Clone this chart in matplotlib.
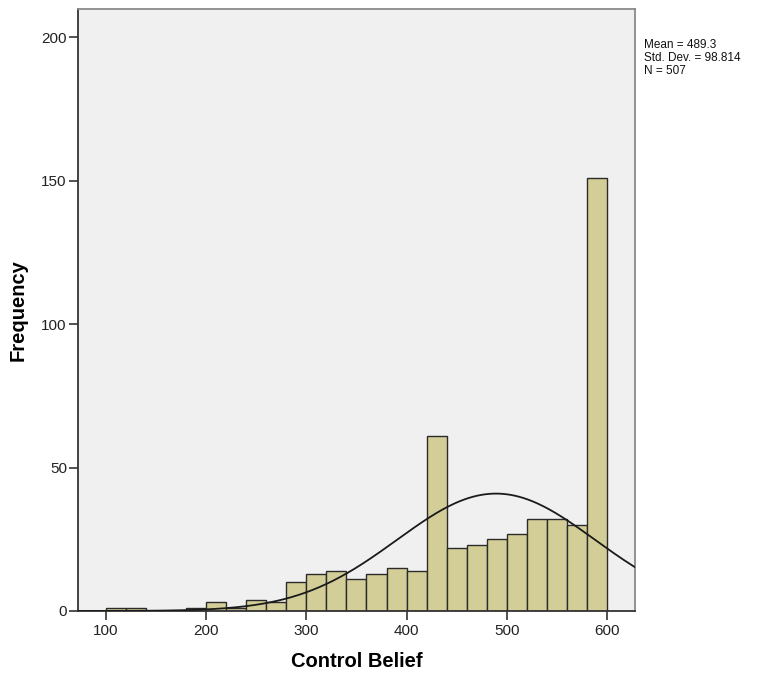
import numpy as np
import matplotlib.pyplot as plt

# Histogram of Control Belief scores, 20-point bins from 100 to 600
bin_edges = list(range(100, 601, 20))
counts = [1, 1, 0, 0, 1, 3, 1, 4, 3, 10, 13, 14, 11, 13, 15, 14,
          61, 22, 23, 25, 27, 32, 32, 30, 151]

mean = 489.3
std_dev = 98.814
n_total = 507

plt.rcParams["font.family"] = ["Liberation Sans", "DejaVu Sans"]

fig = plt.figure(figsize=(7.72, 6.77), dpi=100)
ax = fig.add_axes([0.101, 0.0975, 0.7215, 0.8895])
ax.set_facecolor("#F0F0F0")

lefts = np.array(bin_edges[:-1])
ax.bar(lefts, counts, width=20, align="edge", color="#D3CE97",
       edgecolor="#2b2b2b", linewidth=1.0, zorder=2)

# Fitted normal curve scaled to counts per bin
xs = np.linspace(72, 628, 400)
bin_w = 20
pdf = np.exp(-0.5 * ((xs - mean) / std_dev) ** 2) / (std_dev * np.sqrt(2 * np.pi))
ax.plot(xs, n_total * bin_w * pdf, color="#1a1a1a", linewidth=1.3, zorder=3)

ax.set_xlim(72, 628)
ax.set_ylim(0, 210)
ax.set_xticks([100, 200, 300, 400, 500, 600])
ax.set_yticks([0, 50, 100, 150, 200])
ax.tick_params(axis="both", direction="out", length=6.5, width=1.2,
               color="#333333", labelsize=11, labelcolor="#222222")
ax.tick_params(axis="y", pad=1.5)
ax.tick_params(axis="x", pad=3)

for side in ["left", "bottom"]:
    ax.spines[side].set_color("#333333")
    ax.spines[side].set_linewidth(1.3)
for side in ["top", "right"]:
    ax.spines[side].set_color("#8a8a8a")
    ax.spines[side].set_linewidth(1.3)

ax.set_xlabel("Control Belief", fontsize=14.5, fontweight="bold", labelpad=10)
ax.set_ylabel("Frequency", fontsize=14.5, fontweight="bold", labelpad=10)

fig.text(0.834, 0.942,
         f"Mean = {mean}\nStd. Dev. = {std_dev}\nN = {n_total}",
         fontsize=8.5, va="top", ha="left", linespacing=1.12, color="#111111")

fig.savefig("out.png", dpi=100, facecolor="white")
